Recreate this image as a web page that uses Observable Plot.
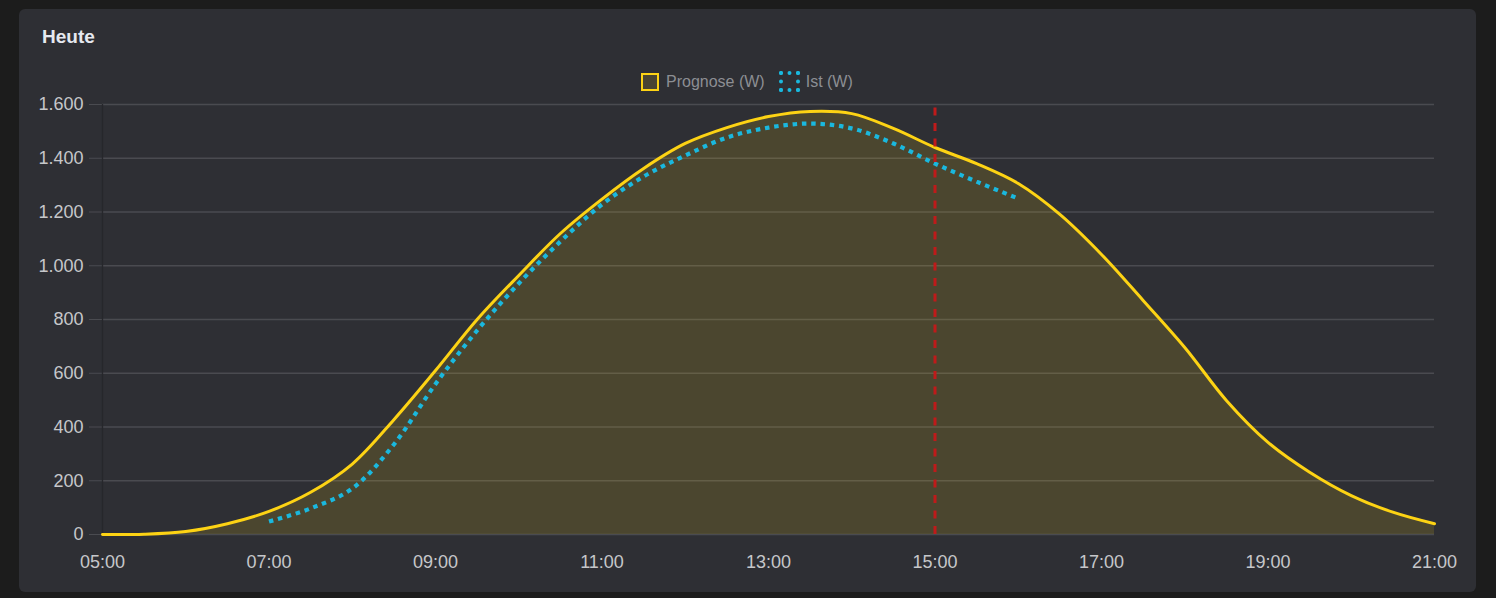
<!DOCTYPE html>
<html>
<head>
<meta charset="utf-8">
<script src="https://cdn.jsdelivr.net/npm/d3@7"></script>
<script src="https://cdn.jsdelivr.net/npm/@observablehq/plot@0.6"></script>
<style>
  html, body { margin: 0; padding: 0; background: #1c1c1c; }
  #wrap { position: relative; width: 1496px; height: 598px; overflow: hidden; font-family: "Liberation Sans", Arial, Helvetica, sans-serif; }
  #card { position: absolute; left: 19px; top: 9px; width: 1457px; height: 583px; background: #2e2f34; border-radius: 6px; }
  #title { position: absolute; left: 42px; top: 26px; font-size: 19px; font-weight: bold; color: #e6e9f0; }
  #legend { position: absolute; left: 641px; top: 71px; display: flex; align-items: center; font-size: 16px; color: #8c8e93; }
  .sw { width: 14px; height: 14px; margin-right: 7px; box-sizing: content-box; }
  #chart { position: absolute; left: 0; top: 0; }
</style>
</head>
<body>
<div id="wrap">
  <div id="card"></div>
  <div id="title">Heute</div>
  <div id="legend">
    <span class="sw" style="border:2.5px solid #fdd314;background:#4a4532;"></span><span>Prognose (W)</span>
    <span class="sw" style="border:4px dotted #1ab8de;margin-left:14px;margin-right:6px;width:13px;height:13px;"></span><span>Ist (W)</span>
  </div>
  <div id="chart"></div>
</div>
<script>
const times = ["05:00","05:30","06:00","06:30","07:00","07:30","08:00","08:30","09:00","09:30","10:00","10:30","11:00","11:30","12:00","12:30","13:00","13:30","14:00","14:30","15:00","15:30","16:00","16:30","17:00","17:30","18:00","18:30","19:00","19:30","20:00","20:30","21:00"];
const prognose = [0, 1, 11, 40, 86, 157, 262, 427, 610, 800, 964, 1120, 1248, 1362, 1455, 1514, 1555, 1574, 1566, 1511, 1440, 1380, 1306, 1191, 1042, 871, 696, 499, 343, 232, 145, 83, 40];
const istTimes = ["07:00","07:30","08:00","08:30","09:00","09:30","10:00","10:30","11:00","11:30","12:00","12:30","13:00","13:30","14:00","14:30","15:00","15:30","16:00"];
const ist = [48, 97, 171, 335, 560, 759, 934, 1090, 1228, 1332, 1410, 1477, 1514, 1529, 1511, 1455, 1380, 1313, 1250];
const xTicks = ["05:00","07:00","09:00","11:00","13:00","15:00","17:00","19:00","21:00"];
const yTicks = [0, 200, 400, 600, 800, 1000, 1200, 1400, 1600];
const nowTime = "15:00";

const toH = s => { const [h, m] = s.split(":").map(Number); return h + m / 60; };
const fmtH = h => String(Math.floor(h)).padStart(2, "0") + ":" + String(Math.round((h % 1) * 60)).padStart(2, "0");
const de = d3.formatLocale({decimal: ",", thousands: ".", grouping: [3], currency: ["", " €"]});
const fmtY = de.format(",d");

const progData = times.map((t, i) => ({x: toH(t), y: prognose[i]}));
const istData = istTimes.map((t, i) => ({x: toH(t), y: ist[i]}));

const chart = Plot.plot({
  width: 1496,
  height: 598,
  marginLeft: 102,
  marginRight: 62,
  marginTop: 104,
  marginBottom: 64,
  style: {background: "transparent", fontFamily: "'Liberation Sans', Arial, Helvetica, sans-serif", fontSize: "18px", color: "#c6c7ca"},
  x: {domain: [5, 21], ticks: xTicks.map(toH), tickFormat: fmtH},
  y: {domain: [0, 1600], ticks: yTicks, tickFormat: fmtY},
  marks: [
    Plot.gridY(yTicks, {stroke: "#4a4b50", strokeOpacity: 1, strokeWidth: 1.3}),
    Plot.axisY(yTicks, {tickSize: 13, tickPadding: 6, stroke: "#4a4b50", fill: "#c6c7ca", fontSize: 18, label: null, tickFormat: fmtY}),
    Plot.axisX(xTicks.map(toH), {tickSize: 0, tickPadding: 21, fill: "#c6c7ca", fontSize: 18, label: null, tickFormat: fmtH}),
    Plot.ruleX([5], {stroke: "#26272b", strokeWidth: 1.3}),
    Plot.areaY(progData, {x: "x", y: "y", fill: "#fdd314", fillOpacity: 0.14, curve: "catmull-rom"}),
    Plot.lineY(istData, {x: "x", y: "y", stroke: "#1ab8de", strokeWidth: 4.2, strokeDasharray: "4.5 4.8", strokeLinecap: "butt", strokeLinejoin: "miter", curve: "catmull-rom"}),
    Plot.lineY(progData, {x: "x", y: "y", stroke: "#fdd314", strokeWidth: 3, curve: "catmull-rom"}),
    Plot.ruleX([toH(nowTime)], {y1: 0, y2: 1600, stroke: "#bf1a1a", strokeWidth: 3, strokeDasharray: "8 7.5", strokeLinecap: "butt"})
  ]
});
document.getElementById("chart").appendChild(chart);
</script>
</body>
</html>
